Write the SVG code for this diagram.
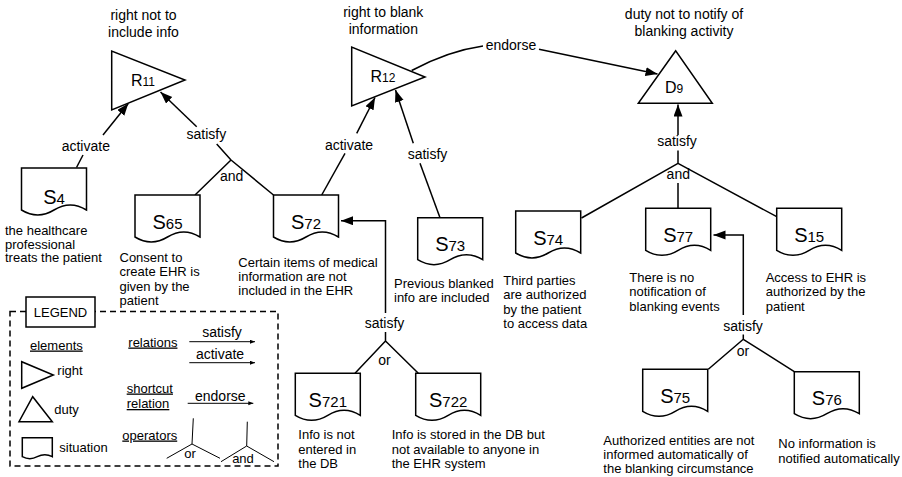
<svg xmlns="http://www.w3.org/2000/svg" width="902" height="477" viewBox="0 0 902 477">
<style>
text{font-family:"Liberation Sans",Arial,Helvetica,sans-serif;fill:#000}
.t{font-size:14px;text-anchor:middle}
.l{font-size:14px;text-anchor:middle}
.d{font-size:13px}
.g{font-size:13px}
.u{text-decoration:underline}
.sh{fill:#fff;stroke:#000;stroke-width:1.5}
.e{fill:none;stroke:#000;stroke-width:1.5}
.es{fill:none;stroke:#000;stroke-width:1}
.nl{font-size:20px;text-anchor:middle}
.tl{font-size:16px;text-anchor:middle}
</style>
<defs>
<marker id="ah" markerUnits="userSpaceOnUse" markerWidth="13" markerHeight="10" refX="12" refY="4.5" orient="auto" viewBox="0 0 13 10">
<path d="M0,0 L12,4.5 L0,9 Z" fill="#000"/>
</marker>
<marker id="as" markerUnits="userSpaceOnUse" markerWidth="6" markerHeight="5" refX="5" refY="2" orient="auto" viewBox="0 0 6 5">
<path d="M0,0 L5,2 L0,4 Z" fill="#000"/>
</marker>
<path id="doc" d="M0,0 H65 V42 Q48.75,32 32.5,42 Q16.25,52 0,42 Z"/>
<path id="docs" d="M0,0 H30 V19 Q22.5,15 15,19 Q7.5,23 0,19 Z"/>
</defs>
<rect width="902" height="477" fill="#fff"/>

<g id="connectors">
<path class="e" d="M76.5,167.5 L83,155"/>
<path class="e" d="M103,135 L128.3,103.5" marker-end="url(#ah)"/>
<text class="l" x="85.8" y="150.5">activate</text>

<path class="e" d="M196.7,126.7 L160.5,92" marker-end="url(#ah)"/>
<text class="l" x="206.3" y="139">satisfy</text>
<path class="e" d="M216.7,144 L231,160 M231,160 L195,195 M231,160 L273.5,195"/>
<text class="l" x="231.7" y="181">and</text>

<path class="e" d="M321.7,195 L345,153.3"/>
<path class="e" d="M356.7,133.3 L375,97.5" marker-end="url(#ah)"/>
<text class="l" x="349" y="150">activate</text>

<path class="e" d="M440,217.7 L420,163.3"/>
<path class="e" d="M413.3,143.3 L395.5,90" marker-end="url(#ah)"/>
<text class="l" x="427.5" y="159">satisfy</text>

<path class="e" d="M411.7,70.5 Q448,51 483,46"/>
<path class="e" d="M539,49.3 L657.5,74" marker-end="url(#ah)"/>
<text class="l" x="511" y="50">endorse</text>

<path class="e" d="M678,135 L678,104.5" marker-end="url(#ah)"/>
<text class="l" x="677" y="146">satisfy</text>
<path class="e" d="M678,150.5 L678,163.3 M678,163.3 L581.5,218 M678,163.3 L776.7,216.7 M678,183 L678,208.3"/>
<text class="l" x="678.3" y="179">and</text>

<path class="e" d="M385.5,313 V220.7 H341" marker-end="url(#ah)"/>
<text class="l" x="384.5" y="328">satisfy</text>
<path class="e" d="M385.5,332 V341 M385.5,341 L355,373.3 M385.5,341 L418.3,373.3"/>
<text class="l" x="384.5" y="365">or</text>

<path class="e" d="M743.3,315 V235 H713.5" marker-end="url(#ah)"/>
<text class="l" x="743" y="331">satisfy</text>
<path class="e" d="M743.3,334.5 V339.3 M743.3,339.3 L708.3,369.3 M743.3,339.3 L794.3,371.7"/>
<text class="l" x="743" y="356">or</text>
</g>

<g id="R11">
<polygon class="sh" points="111.7,51 111.7,110 185,80"/>
<text class="tl" x="143" y="86">R<tspan font-size="12">11</tspan></text>
<text class="t" x="143.5" y="19.5">right not to</text>
<text class="t" x="143.5" y="36.5">include info</text>
</g>
<g id="R12">
<polygon class="sh" points="351.7,47 351.7,106 425,77"/>
<text class="tl" x="383" y="82">R<tspan font-size="12">12</tspan></text>
<text class="t" x="383.3" y="16.5">right to blank</text>
<text class="t" x="383.3" y="33.5">information</text>
</g>
<g id="D9">
<polygon class="sh" points="675.7,50.7 638.3,103.3 712.3,103.3"/>
<text class="tl" x="674" y="93.3">D<tspan font-size="12">9</tspan></text>
<text class="t" x="684" y="18.5">duty not to notify of</text>
<text class="t" x="684" y="35.5">blanking activity</text>
</g>

<g id="S4">
<use href="#doc" class="sh" x="21.5" y="168"/>
<text class="nl" x="54" y="204">S<tspan font-size="15">4</tspan></text>
<text class="d" x="5" y="235">the healthcare</text>
<text class="d" x="5" y="248.5">professional</text>
<text class="d" x="5" y="262">treats the patient</text>
</g>
<g id="S65">
<use href="#doc" class="sh" x="135" y="195"/>
<text class="nl" x="167.5" y="228.5">S<tspan font-size="15">65</tspan></text>
<text class="d" x="119.5" y="261.5">Consent to</text>
<text class="d" x="119.5" y="276">create EHR is</text>
<text class="d" x="119.5" y="290.5">given by the</text>
<text class="d" x="119.5" y="305">patient</text>
</g>
<g id="S72">
<use href="#doc" class="sh" x="273.5" y="195"/>
<text class="nl" x="306" y="228.5">S<tspan font-size="15">72</tspan></text>
<text class="d" x="238.3" y="266.5">Certain items of medical</text>
<text class="d" x="238.3" y="280.5">information are not</text>
<text class="d" x="238.3" y="294.5">included in the EHR</text>
</g>
<g id="S73">
<use href="#doc" class="sh" x="417.7" y="217.7"/>
<text class="nl" x="450.2" y="250.5">S<tspan font-size="15">73</tspan></text>
<text class="d" x="394" y="288">Previous blanked</text>
<text class="d" x="394" y="301.7">info are included</text>
</g>
<g id="S74">
<use href="#doc" class="sh" x="515.7" y="211"/>
<text class="nl" x="548.2" y="245">S<tspan font-size="15">74</tspan></text>
<text class="d" x="503.3" y="284.5">Third parties</text>
<text class="d" x="503.3" y="299">are authorized</text>
<text class="d" x="503.3" y="313.5">by the patient</text>
<text class="d" x="503.3" y="328">to access data</text>
</g>
<g id="S77">
<use href="#doc" class="sh" x="645.7" y="208.3"/>
<text class="nl" x="678.2" y="241.7">S<tspan font-size="15">77</tspan></text>
<text class="d" x="629.3" y="281.5">There is no</text>
<text class="d" x="629.3" y="296">notification of</text>
<text class="d" x="629.3" y="310.5">blanking events</text>
</g>
<g id="S15">
<use href="#doc" class="sh" x="776.7" y="208.3"/>
<text class="nl" x="809.2" y="241.7">S<tspan font-size="15">15</tspan></text>
<text class="d" x="765.7" y="281.5">Access to EHR is</text>
<text class="d" x="765.7" y="296">authorized by the</text>
<text class="d" x="765.7" y="310.5">patient</text>
</g>
<g id="S721">
<use href="#doc" class="sh" x="295.3" y="373.3"/>
<text class="nl" x="327.8" y="406.7">S<tspan font-size="15">721</tspan></text>
<text class="d" x="298.3" y="439.3">Info is not</text>
<text class="d" x="298.3" y="453.6">entered in</text>
<text class="d" x="298.3" y="468">the DB</text>
</g>
<g id="S722">
<use href="#doc" class="sh" x="415.7" y="373.3"/>
<text class="nl" x="448.2" y="406.7">S<tspan font-size="15">722</tspan></text>
<text class="d" x="391.7" y="439.3">Info is stored in the DB but</text>
<text class="d" x="391.7" y="453.6">not available to anyone in</text>
<text class="d" x="391.7" y="468">the EHR system</text>
</g>
<g id="S75">
<use href="#doc" class="sh" x="642.7" y="369.3"/>
<text class="nl" x="675.2" y="403">S<tspan font-size="15">75</tspan></text>
<text class="d" x="603.3" y="444.5">Authorized entities are not</text>
<text class="d" x="603.3" y="458.8">informed automatically of</text>
<text class="d" x="603.3" y="473">the blanking circumstance</text>
</g>
<g id="S76">
<use href="#doc" class="sh" x="794.3" y="371.7"/>
<text class="nl" x="826.8" y="405">S<tspan font-size="15">76</tspan></text>
<text class="d" x="778.3" y="448.3">No information is</text>
<text class="d" x="778.3" y="462.7">notified automatically</text>
</g>

<g id="legend">
<rect x="10" y="311.5" width="268" height="154.5" fill="none" stroke="#000" stroke-width="1.5" stroke-dasharray="6,4"/>
<rect class="sh" x="26" y="297" width="69" height="30"/>
<text class="g" x="60.5" y="317" text-anchor="middle">LEGEND</text>
<text class="g u" x="30" y="349.5">elements</text>
<polygon class="sh" points="21.7,361.7 21.7,388.3 53.3,375"/>
<text class="g" x="57.3" y="374.5">right</text>
<polygon class="sh" points="32.7,396.7 19,421.7 52.3,421.7"/>
<text class="g" x="54.3" y="414">duty</text>
<use href="#docs" class="sh" x="22.3" y="437.7"/>
<text class="g" x="59.3" y="451.5">situation</text>
<text class="g u" x="128.3" y="346.5">relations</text>
<text class="l" x="222" y="336.5">satisfy</text>
<path class="es" d="M189.3,341.7 H255" marker-end="url(#as)"/>
<text class="l" x="220" y="359">activate</text>
<path class="es" d="M189.3,362.7 H255" marker-end="url(#as)"/>
<text class="g u" x="126.7" y="392.5">shortcut</text>
<text class="g u" x="126.7" y="408">relation</text>
<text class="l" x="220.3" y="400.5">endorse</text>
<path class="es" d="M187.7,403.3 H253.3" marker-end="url(#as)"/>
<text class="g u" x="122.3" y="439.5">operators</text>
<path class="es" d="M193.3,418.3 L192,444 M192,444 L166.7,458.3 M192,444 L220,458.3"/>
<text class="g" x="190" y="458" text-anchor="middle">or</text>
<path class="es" d="M247.3,421.7 L246.7,446 M246.7,446 L221,461.7 M246.7,446 L274,461.7"/>
<text class="g" x="243" y="462.5" text-anchor="middle">and</text>
</g>
</svg>
